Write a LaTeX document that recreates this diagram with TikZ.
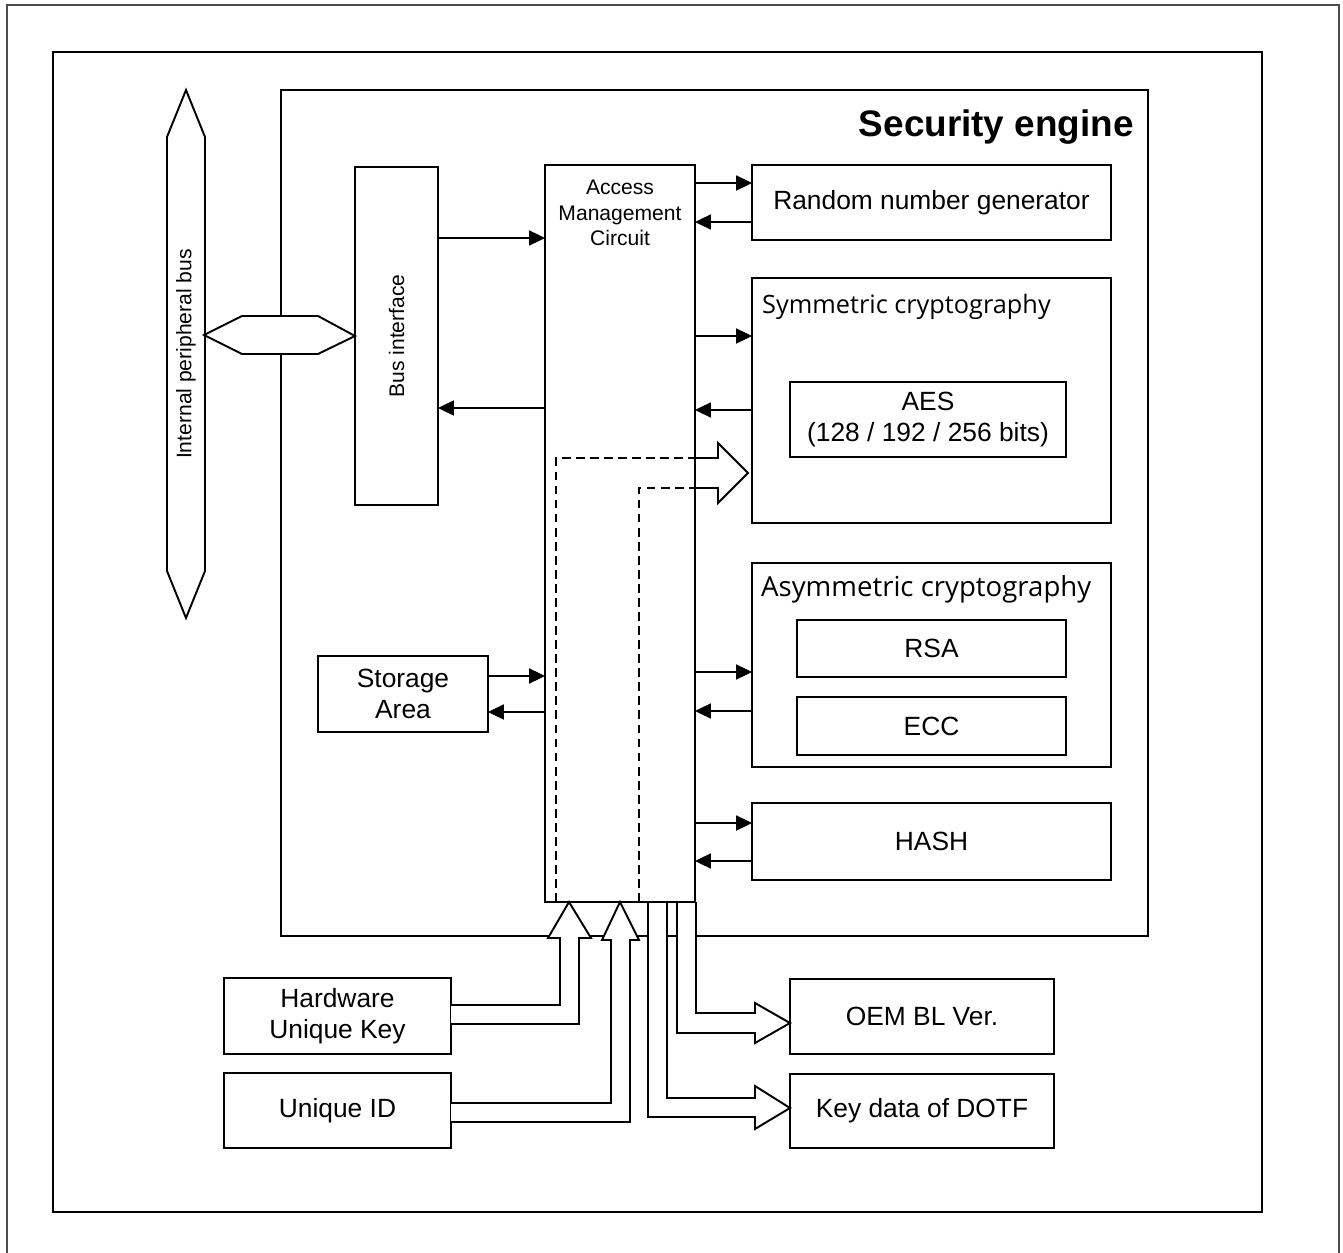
\documentclass[tikz,border=0pt]{standalone}
\usepackage{fontspec}
\setmainfont{Liberation Sans}
\newfontfamily\uifont{Open Sans}
\usetikzlibrary{arrows.meta}
\pgfdeclarelayer{front}
\pgfsetlayers{main,front}

\begin{document}
\begin{tikzpicture}[x=0.02cm, y=-0.02cm,
  blk/.style = {draw, line width=1.1pt, inner sep=0pt, outer sep=0pt, font=\fontsize{15}{18}\selectfont, align=center},
  sz/.style 2 args = {minimum width=#1*0.02cm, minimum height=#2*0.02cm},
  small/.style = {font=\fontsize{12}{14.5}\selectfont, align=center},
  grp/.style = {font=\uifont\fontsize{#1}{18}\selectfont, anchor=west},
  arr/.style = {line width=1.1pt, -{Triangle[length=9pt, width=8.5pt]}},
  hollow/.style = {draw, fill=white, line width=1.1pt, line join=miter},
  dsh/.style = {line width=0.8pt, dash pattern=on 5pt off 3pt}
]
  \useasboundingbox (0,0) rectangle (1343,1253);

  % frames
  \draw[gray!60!black, line width=1.2pt] (7,1253) |- (1339,5) -- (1339,1253);
  \draw[line width=1.1pt] (53,52) rectangle (1262,1212);

  % security engine
  \node[blk, sz={867}{846}] (engine) at (714.5,513) {};
  \node[font=\bfseries\fontsize{21}{25}\selectfont, anchor=east, inner sep=0pt] (title) at (1134,127) {Security engine};

  \node[blk, sz={338}{83}, rotate=90, font=\fontsize{12}{14.5}\selectfont] (busif) at (396.5,336) {Bus interface};
  \begin{pgfonlayer}{front}
    \node[blk, sz={150}{737}] (amc) at (620,533.5) {};
  \end{pgfonlayer}
  \node[small, anchor=north] (amctxt) at ([yshift=-0.18cm]amc.north) {Access\\Management\\Circuit};

  \node[blk, sz={359}{75}] (rng) at (931.5,202.5) {Random number generator};

  \node[blk, sz={359}{245}] (sym) at (931.5,400.5) {};
  \node[grp=14.4] (symtxt) at (756,307) {Symmetric cryptography};
  \node[blk, sz={276}{75}] (aes) at (928,419.5) {AES\\(128 / 192 / 256 bits)};

  \node[blk, sz={359}{204}] (asym) at (931.5,665) {};
  \node[grp=15.7] (asymtxt) at (755,589) {Asymmetric cryptography};
  \node[blk, sz={269}{57}] (rsa) at (931.5,648.5) {RSA};
  \node[blk, sz={269}{58}] (ecc) at (931.5,726) {ECC};

  \node[blk, sz={359}{77}] (hash) at (931.5,841.5) {HASH};
  \node[blk, sz={170}{76}] (stor) at (403,694) {Storage\\Area};

  % outside the engine
  \node[blk, sz={227}{76}] (huk) at (337.5,1016) {Hardware\\Unique Key};
  \node[blk, sz={227}{75}] (uid) at (337.5,1110.5) {Unique ID};
  \node[blk, sz={264}{75}] (oem) at (922,1016.5) {OEM BL Ver.};
  \node[blk, sz={264}{74}] (dotf) at (922,1111) {Key data of DOTF};

  % arrows between the circuit and the blocks
  \foreach \blk/\ya/\yb in {rng/183/222, sym/336/410, asym/672/711, hash/823/861}{
    \draw[arr] (amc.east |- 0,\ya) -- (\blk.west |- 0,\ya);
    \draw[arr] (\blk.west |- 0,\yb) -- (amc.east |- 0,\yb);
  }
  \draw[arr] (busif.south |- 0,238) -- (amc.west |- 0,238);
  \draw[arr] (amc.west |- 0,408) -- (busif.south |- 0,408);
  \draw[arr] (stor.east |- 0,676) -- (amc.west |- 0,676);
  \draw[arr] (amc.west |- 0,712) -- (stor.east |- 0,712);

  % key path into the symmetric block
  \draw[dsh] (amc.south -| 556,0) |- (amc.east |- 0,458);
  \draw[dsh] (amc.south -| 639,0) |- (amc.east |- 0,488);
  \draw[hollow] (amc.east |- 0,458) -- (718,458) -- (718,443) -- (748,473) -- (718,503) -- (718,488) -- (amc.east |- 0,488);

  % hollow arrows below the circuit
  \draw[hollow] (huk.east |- 0,1005) -| (560,938) -- (548,938) -- (amc.south -| 569,0) -- (591,938) -- (579,938) |- (huk.east |- 0,1024);
  \draw[hollow] (uid.east |- 0,1103) -| (611,940) -- (602,940) -- (amc.south -| 620,0) -- (639,940) -- (630,940) |- (uid.east |- 0,1122);
  \draw[hollow] (amc.south -| 677,0) |- (755,1033) -- (755,1043) -- (oem.west |- 0,1023) -- (755,1003) -- (755,1013) -| (amc.south -| 696,0);
  \draw[hollow] (amc.south -| 648,0) |- (755,1117) -- (755,1129) -- (dotf.west |- 0,1108) -- (755,1086) -- (755,1098) -| (amc.south -| 667,0);

  % peripheral bus
  \draw[hollow] (186,90) -- (205,137) -- (205,571) -- (186,618) -- (167,571) -- (167,137) -- cycle;
  \node[small, rotate=90] (bustxt) at (186,354) {Internal peripheral bus};
  \draw[hollow] (204,335) -- (242,316) -- (318,316) -- (busif.north) -- (318,354) -- (242,354) -- cycle;
\end{tikzpicture}
\end{document}
